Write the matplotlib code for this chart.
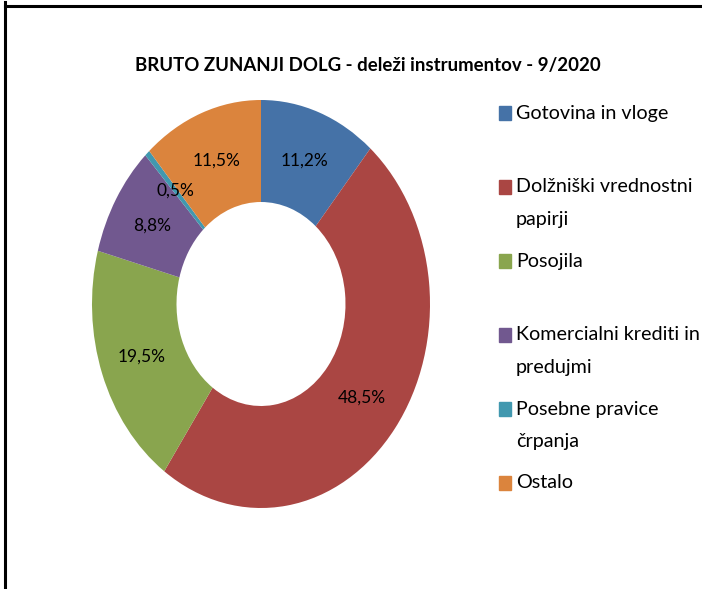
import matplotlib.pyplot as plt
from matplotlib.lines import Line2D
from matplotlib.patches import Rectangle

title = "BRUTO ZUNANJI DOLG - deleži instrumentov - 9/2020"
categories = [
    "Gotovina in vloge",
    "Dolžniški vrednostni\npapirji",
    "Posojila",
    "Komercialni krediti in\npredujmi",
    "Posebne pravice\nčrpanja",
    "Ostalo",
]
shares = [11.2, 48.5, 19.5, 8.8, 0.5, 11.5]
colors = ["#4572A7", "#AA4643", "#89A54E", "#71588F", "#4198AF", "#DB843D"]

plt.rcParams["font.family"] = ["Lato", "DejaVu Sans"]

W, H = 702, 589
fig = plt.figure(figsize=(W / 100, H / 100), dpi=100)


def fx(px):
    return px / W


def fy(py):
    return 1 - py / H


# donut (slightly elliptical, as in the original)
ax = fig.add_axes([fx(92), fy(508), fx(430) - fx(92), fy(100) - fy(508)])
wedges, texts = ax.pie(
    shares,
    colors=colors,
    startangle=90,
    counterclock=False,
    radius=1,
    wedgeprops=dict(width=0.5, linewidth=0),
    labels=[f"{v:.1f}".replace(".", ",") + "%" for v in shares],
    labeldistance=0.75,
    textprops=dict(fontsize=12.5, color="black"),
)
for t in texts:
    t.set_ha("center")
    t.set_va("center")
ax.set_aspect("auto")
ax.set_xlim(-1, 1)
ax.set_ylim(-1, 1)
ax.axis("off")

fig.text(fx(368), fy(66), title, ha="center", va="center",
         fontsize=13.4, fontweight="bold")

# legend drawn by hand to keep the uneven line layout
y0 = 113
step = 74
for i, (name, c) in enumerate(zip(categories, colors)):
    y = y0 + i * step
    fig.patches.append(Rectangle((fx(499), fy(y + 7)), fx(12), fy(0) - fy(14),
                                 transform=fig.transFigure, color=c))
    lines = name.split("\n")
    for k, line in enumerate(lines):
        fig.text(fx(516), fy(y + k * 33), line, ha="left", va="center",
                 fontsize=14.2)

# frame lines
fig.add_artist(Line2D([fx(4.5), fx(4.5)], [0, fy(2)], color="black", lw=2.2,
                      transform=fig.transFigure))
fig.add_artist(Line2D([fx(4.5), 1], [fy(6), fy(6)], color="black", lw=2.2,
                      transform=fig.transFigure))

fig.savefig("out.png", dpi=100)
